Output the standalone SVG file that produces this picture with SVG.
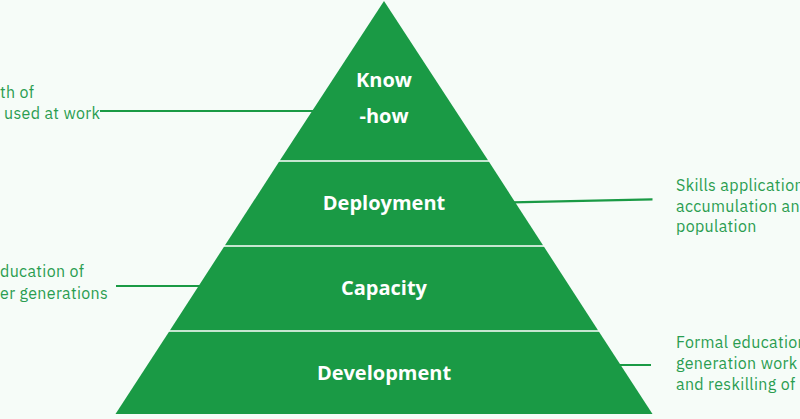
<svg xmlns="http://www.w3.org/2000/svg" width="800" height="419" viewBox="0 0 800 419">
<style>
.band{fill:#1a9a45;}
.sep{stroke:#ffffff;stroke-width:1.5;}
.lbl{font-family:"Open Sans","Noto Sans",sans-serif;font-weight:700;font-size:20px;fill:#ffffff;text-anchor:middle;}
.side{font-family:"IBM Plex Sans","Noto Sans","Open Sans",sans-serif;font-size:16px;letter-spacing:0.35px;fill:#2a9d50;}
.conn{stroke:#1a9a45;stroke-width:2.2;fill:none;}
</style>
<rect x="0" y="0" width="800" height="419" fill="#f6fcf8"/>
<g id="connectors">
<line class="conn" x1="100" y1="111" x2="316" y2="111"/>
<line class="conn" x1="116" y1="286" x2="202" y2="286"/>
<line class="conn" x1="512" y1="202.3" x2="652.5" y2="199.3"/>
<line class="conn" x1="618" y1="365" x2="651" y2="365"/>
</g>
<g id="know-how">
<polygon class="band" points="384,1 488.5,161 279.5,161"/>
<text class="lbl" x="384" y="87">Know</text>
<text class="lbl" x="384" y="123">-how</text>
</g>
<g id="deployment">
<polygon class="band" points="279.5,161 488.5,161 543.5,246 224.5,246"/>
<text class="lbl" x="384" y="210">Deployment</text>
</g>
<g id="capacity">
<polygon class="band" points="224.5,246 543.5,246 598.5,331 169.5,331"/>
<text class="lbl" x="384" y="295">Capacity</text>
</g>
<g id="development">
<polygon class="band" points="169.5,331 598.5,331 652.5,414 115.5,414"/>
<text class="lbl" x="384" y="380">Development</text>
</g>
<g id="separators">
<line class="sep" x1="279" y1="161" x2="489" y2="161"/>
<line class="sep" x1="224" y1="246" x2="544" y2="246"/>
<line class="sep" x1="169" y1="331" x2="599" y2="331"/>
</g>
<g id="note-knowhow">
<text class="side" x="0" y="98">th of</text>
<text class="side" x="4" y="119">used at work</text>
</g>
<g id="note-capacity">
<text class="side" x="0" y="277">ducation of</text>
<text class="side" x="0" y="299">er generations</text>
</g>
<g id="note-deployment">
<text class="side" x="676" y="191">Skills application</text>
<text class="side" x="676" y="212">accumulation and</text>
<text class="side" x="676" y="232">population</text>
</g>
<g id="note-development">
<text class="side" x="676" y="348">Formal education</text>
<text class="side" x="676" y="369">generation work</text>
<text class="side" x="676" y="390">and reskilling of</text>
</g>
</svg>
